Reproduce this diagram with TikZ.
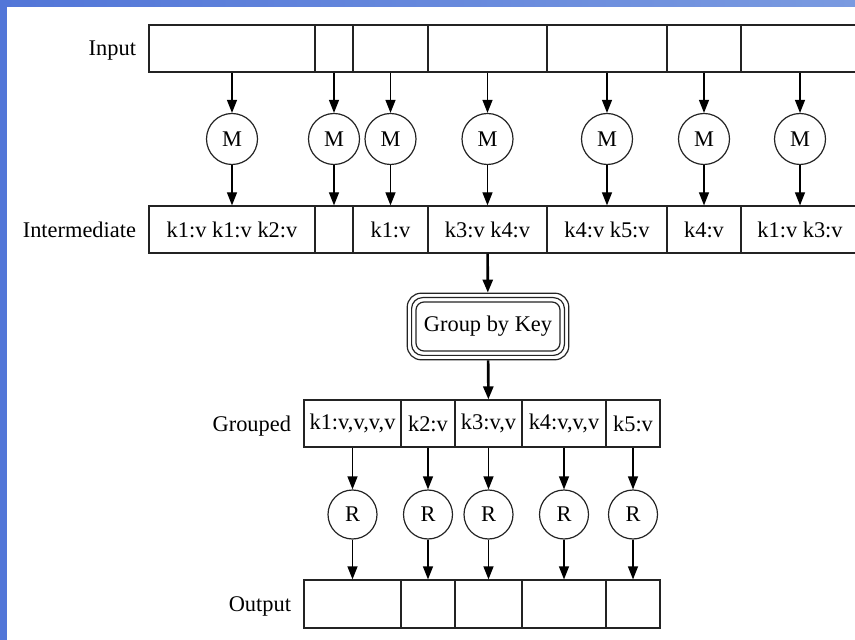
\documentclass[tikz,border=0pt]{standalone}
\usepackage{fontspec}
\setmainfont{Liberation Serif}
\usetikzlibrary{positioning,fit,arrows.meta}

\definecolor{frameblue}{RGB}{82,118,216}
\definecolor{frameblueL}{RGB}{122,154,224}
\definecolor{edgegray}{RGB}{35,35,35}

\tikzset{
  cell/.style={draw=edgegray, line width=0.6pt, minimum height=23.5pt, inner sep=0pt},
  op/.style={draw=edgegray, line width=0.6pt, circle, minimum size=25.5pt, inner sep=0pt},
  rowlabel/.style={inner sep=0pt, text depth=0pt},
  flow/.style={-{Triangle[length=6.5pt,width=5pt]}, line width=0.6pt},
  bigflow/.style={flow, line width=1.3pt},
  groupbox/.style={draw=edgegray, line width=0.6pt, inner sep=1.9pt},
}

\begin{document}
\begin{tikzpicture}[x=0.5pt,y=-0.5pt,font=\fontsize{11.2}{13.4}\selectfont]
\useasboundingbox (0,0) rectangle (855,640);
\clip (0,0) rectangle (855,640);
% frame
\fill[frameblue] (0,0) rectangle (7,640);
\shade[left color=frameblue, right color=frameblueL] (0,0) rectangle (855,7);

% input, map and intermediate rows
\foreach \l/\r/\t [count=\i, evaluate=\l as \cw using (\r-\l)/2, evaluate=\l as \cx using (\l+\r)/2]
  in {149/315/{k1:v k1:v k2:v}, 315/353/{}, 353/428/{k1:v}, 428/547/{k3:v k4:v},
      547/667/{k4:v k5:v}, 667/741/{k4:v}, 741/859/{k1:v k3:v}}
{
  \node[cell, minimum width=\cw pt] (in\i) at (\cx,48.5) {};
  \node[op] (m\i) at (\cx,139) {M};
  \node[cell, minimum width=\cw pt] (mid\i) at (\cx,229.5) {\t};
  \draw[flow] (in\i) -- (m\i);
  \draw[flow] (m\i) -- (mid\i);
}
\node[rowlabel, left=6pt of in1] (lin) {Input};
\node[rowlabel, left=6pt of mid1] (lmid) {Intermediate};

% shuffle
\node[groupbox, rounded corners=4pt, minimum width=72pt, minimum height=24.5pt] (group) at (488,326.5) {Group by Key};
\node[groupbox, rounded corners=5.5pt, fit=(group)] (group2) {};
\node[groupbox, rounded corners=7pt, fit=(group2)] (group3) {};
\draw[bigflow] (mid4) -- (group3);

% grouped, reduce and output rows
\foreach \l/\r/\t [count=\i, evaluate=\l as \cw using (\r-\l)/2, evaluate=\l as \cx using (\l+\r)/2]
  in {304/401/{k1:v,v,v,v}, 401/455/{k2:v}, 455/522/{k3:v,v}, 522/606/{k4:v,v,v}, 606/660/{k5:v}}
{
  \node[cell, minimum width=\cw pt] (grp\i) at (\cx,423.5) {\t};
  \node[op, minimum size=24.5pt] (r\i) at (\cx,514.5) {R};
  \node[cell, minimum width=\cw pt, minimum height=24pt] (out\i) at (\cx,604) {};
  \draw[flow] (grp\i) -- (r\i);
  \draw[flow] (r\i) -- (out\i);
}
\draw[bigflow] (group3) -- (grp3);
\node[rowlabel, left=6pt of grp1] (lgrp) {Grouped};
\node[rowlabel, left=6pt of out1] (lout) {Output};
\end{tikzpicture}
\end{document}
